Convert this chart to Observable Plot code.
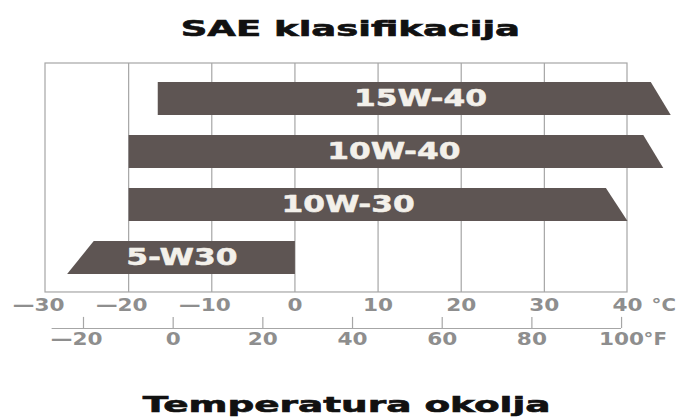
<!DOCTYPE html>
<html>
<head>
<meta charset="utf-8">
<script src="https://cdn.jsdelivr.net/npm/d3@7"></script>
<script src="https://cdn.jsdelivr.net/npm/@observablehq/plot@0.6"></script>
<style>
  html, body { margin: 0; padding: 0; background: #fff; }
  #wrap { width: 679px; }
  .title { width: 679px; text-align: center; font-family: "DejaVu Sans", sans-serif; font-weight: bold; font-size: 21px; color: #111; -webkit-text-stroke: 0.6px #111; }
  .title span { display: inline-block; transform-origin: center; }
  #top span { transform: translateX(11px) scaleX(1.76); }
  #bottom span { transform: translateX(7px) scaleX(1.78); }
  #top { height: 38px; padding-top: 17px; line-height: 24px; }
  #bottom { height: 40px; padding-top: 38px; line-height: 24px; }
  svg { display: block; }
</style>
</head>
<body>
<div id="wrap">
  <div class="title" id="top"><span>SAE klasifikacija</span></div>
  <div id="chart"></div>
  <div class="title" id="bottom"><span>Temperatura okolja</span></div>
</div>
<script>
// ---- data ----
const grades      = ["15W-40", "10W-40", "10W-30", "5-W30"];
const minTopC     = [-16.5, -20, -20, -24.2];   // lower limit, top edge of bar (°C)
const minBottomC  = [-16.5, -20, -20, -27.4];   // lower limit, bottom edge (slanted end)
const maxTopC     = [42.8, 41.9, 37.4, 0];      // upper limit, top edge
const maxBottomC  = [45.2, 44.3, 40.0, 0];      // upper limit, bottom edge (slanted end)
const labelAtC    = [15.1, 11.9, 6.4, -13.6];   // where each grade name sits
const celsiusTicks    = [-30, -20, -10, 0, 10, 20, 30, 40];
const fahrenheitTicks = [-20, 0, 20, 40, 60, 80, 100];

// The printed °F scale is offset from the °C scale; map it as printed.
const fToAxis = f => -25.43 + (f + 20) * 0.5393;

// ---- layout constants (y in "bar rows") ----
const H = 0.31;                  // half bar thickness
const frameTop = -0.66, frameBottom = 3.66;
const cLabelY = 3.91, fLineY = 4.34, fTickTop = 4.13, fLabelY = 4.55;

const polys = grades.flatMap((g, i) => [
  {g, x: minBottomC[i], y: i + H},
  {g, x: minTopC[i],    y: i - H},
  {g, x: maxTopC[i],    y: i - H},
  {g, x: maxBottomC[i], y: i + H}
]);
const bars = grades.map((g, i) => ({g, x: labelAtC[i], y: i}));

const grey = "#8e8e8e";
const lineGrey = "#a6a6a6";
const fontFam = "DejaVu Sans, sans-serif";

const plot = Plot.plot({
  width: 679,
  height: 300,
  marginLeft: 45,
  marginRight: 52,
  marginTop: 0,
  marginBottom: 0,
  x: {domain: [-30, 40], axis: null},
  y: {domain: [-0.811, 4.849], reverse: true, axis: null},
  style: {fontFamily: fontFam, background: "white"},
  marks: [
    // interior grid lines
    Plot.ruleX(celsiusTicks.slice(1, -1), {y1: frameTop, y2: frameBottom, stroke: lineGrey, strokeWidth: 1.2}),
    // frame
    Plot.rect([0], {x1: -30, x2: 40, y1: frameTop, y2: frameBottom, fill: "none", stroke: lineGrey, strokeWidth: 1.2}),
    // bars with slanted ends
    Plot.line(polys, {x: "x", y: "y", z: "g", curve: "linear-closed", fill: "#5e5553", stroke: "none"}),
    Plot.text(bars, {x: "x", y: "y", text: "g", fill: "#f3f0ea", stroke: "#f3f0ea", strokeWidth: 0.5, fontSize: 23, fontWeight: "bold", fontFamily: fontFam}),
    // °C labels
    Plot.text(celsiusTicks.filter(d => d >= 0), {x: d => d, y: cLabelY, text: d => String(d), fill: grey, fontSize: 18, fontWeight: "bold"}),
    Plot.text(celsiusTicks.filter(d => d < 0), {x: d => d, y: cLabelY, text: d => "—" + Math.abs(d), textAnchor: "end", dx: 19, fill: grey, fontSize: 18, fontWeight: "bold"}),
    Plot.text(["°C"], {x: 40, y: cLabelY, text: d => d, textAnchor: "start", dx: 24, fill: grey, fontSize: 18, fontWeight: "bold"}),
    // °F axis
    Plot.ruleY([fLineY], {x1: fToAxis(-27), x2: fToAxis(100), stroke: lineGrey, strokeWidth: 1.2}),
    Plot.ruleX(fahrenheitTicks, {x: fToAxis, y1: fTickTop, y2: fLineY, stroke: lineGrey, strokeWidth: 1.2}),
    Plot.text(fahrenheitTicks.filter(d => d >= 0), {x: fToAxis, y: fLabelY, text: d => String(d), fill: grey, fontSize: 18, fontWeight: "bold"}),
    Plot.text(fahrenheitTicks.filter(d => d < 0), {x: fToAxis, y: fLabelY, text: d => "—" + Math.abs(d), textAnchor: "end", dx: 19, fill: grey, fontSize: 18, fontWeight: "bold"}),
    Plot.text(["°F"], {x: fToAxis(100), y: fLabelY, text: d => d, textAnchor: "start", dx: 22, fill: grey, fontSize: 18, fontWeight: "bold"})
  ]
});
document.getElementById("chart").appendChild(plot);

// widen glyphs like the (horizontally stretched) original
const stretchBy = [1.36, 1.2, 1.2, 1.1, 1.2, 1.2, 1.1];
plot.querySelectorAll('g[aria-label="text"]').forEach((g, k) => {
  g.querySelectorAll("text").forEach(t => {
    const w = t.getComputedTextLength();
    t.setAttribute("textLength", (w * stretchBy[k]).toFixed(1));
    t.setAttribute("lengthAdjust", "spacingAndGlyphs");
  });
});
</script>
</body>
</html>
